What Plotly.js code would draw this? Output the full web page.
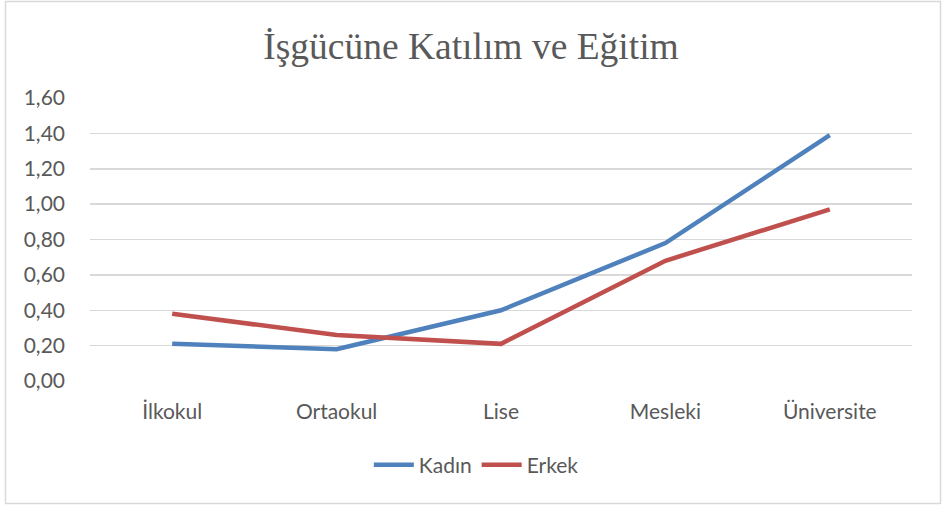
<!DOCTYPE html>
<html>
<head>
<meta charset="utf-8">
<script src="https://cdn.plot.ly/plotly-3.0.1.min.js"></script>
<style>html,body{margin:0;padding:0;background:#fff;}#chart{width:942px;height:508px;}</style>
</head>
<body>
<div id="chart"></div>
<script>
const categories = ["İlkokul", "Ortaokul", "Lise", "Mesleki", "Üniversite"];
const kadin = [0.21, 0.18, 0.40, 0.78, 1.39];
const erkek = [0.38, 0.26, 0.21, 0.68, 0.97];
const yTicks = [0, 0.2, 0.4, 0.6, 0.8, 1.0, 1.2, 1.4, 1.6];
const yTickText = yTicks.map(v => v.toFixed(2).replace('.', ','));

const L = 90, R = 30, T = 98, B = 127, W = 942, H = 508;
const pw = W - L - R, ph = H - T - B;
const px = x => (x - L) / pw;
const py = y => (H - B - y) / ph;

const traces = [
  {x: categories, y: kadin, name: "Kadın", type: "scatter", mode: "lines",
   line: {color: "#4f81bd", width: 4.5}},
  {x: categories, y: erkek, name: "Erkek", type: "scatter", mode: "lines",
   line: {color: "#c0504d", width: 4.5}}
];

const layout = {
  width: W, height: H,
  margin: {l: L, r: R, t: T, b: B},
  paper_bgcolor: "#fff", plot_bgcolor: "#fff",
  font: {family: "Lato, 'Open Sans', sans-serif", color: "#595959", size: 21},
  title: {text: "İşgücüne Katılım ve Eğitim", x: 0.5, xanchor: "center", y: 0.91, yanchor: "middle",
          font: {family: "'Liberation Serif', 'Times New Roman', serif", size: 37.5, color: "#595959"}},
  xaxis: {type: "category", range: [-0.5, 4.5], showgrid: false, zeroline: false, showline: false, ticks: "",
          ticklabelstandoff: 16, tickfont: {size: 21, color: "#595959"}, fixedrange: true},
  yaxis: {range: [0, 1.6], tickvals: yTicks, ticktext: yTickText, showgrid: true,
          gridcolor: "#d9d9d9", gridwidth: 1.5, zeroline: false, showline: false, ticks: "",
          ticklabelstandoff: 24, tickfont: {size: 21, color: "#595959"}, fixedrange: true},
  showlegend: true,
  legend: {orientation: "h", x: 0.47, xanchor: "center", y: py(465), yanchor: "middle",
           font: {size: 21, color: "#595959"}, itemwidth: 40, traceorder: "normal"},
  shapes: [{type: "rect", xref: "paper", yref: "paper",
            x0: px(5.5), x1: px(940.5), y0: py(503.5), y1: py(1.5),
            line: {color: "#d9d9d9", width: 1.5}, fillcolor: "rgba(0,0,0,0)", layer: "below"}]
};

Plotly.newPlot("chart", traces, layout, {displayModeBar: false, staticPlot: true});
</script>
</body>
</html>
